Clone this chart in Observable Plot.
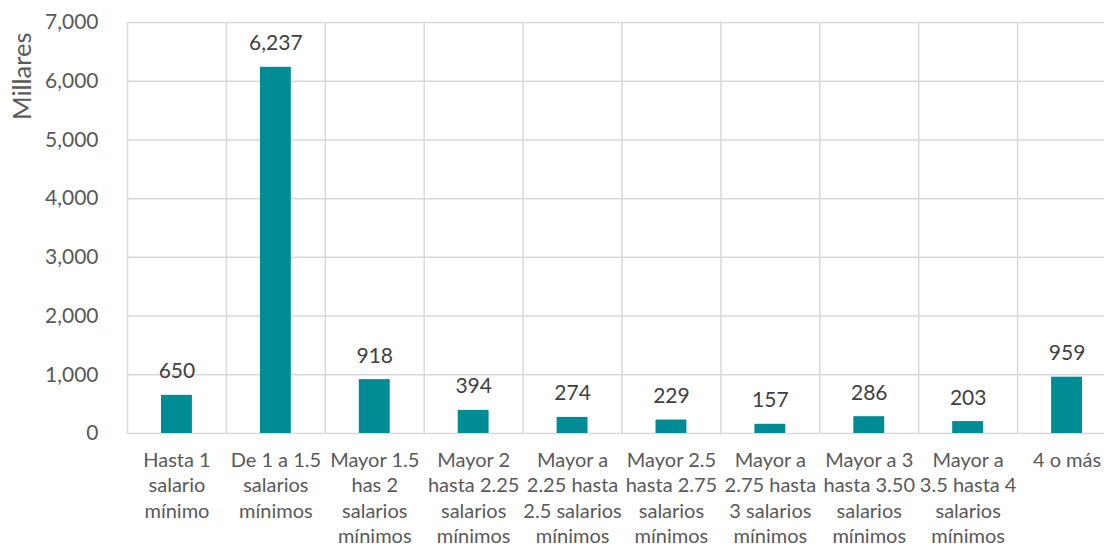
<!DOCTYPE html>
<html>
<head>
<meta charset="utf-8">
<script src="https://cdn.jsdelivr.net/npm/d3@7"></script>
<script src="https://cdn.jsdelivr.net/npm/@observablehq/plot@0.6"></script>
<style>
  html, body { margin: 0; padding: 0; background: #fff; overflow: hidden; }
  #chart svg { max-width: none !important; }
</style>
</head>
<body>
<div id="chart"></div>
<script>
const categories = [
  "Hasta 1\nsalario\nmínimo",
  "De 1 a 1.5\nsalarios\nmínimos",
  "Mayor 1.5\nhas 2\nsalarios\nmínimos",
  "Mayor 2\nhasta 2.25\nsalarios\nmínimos",
  "Mayor a\n2.25 hasta\n2.5 salarios\nmínimos",
  "Mayor 2.5\nhasta 2.75\nsalarios\nmínimos",
  "Mayor a\n2.75 hasta\n3 salarios\nmínimos",
  "Mayor a 3\nhasta 3.50\nsalarios\nmínimos",
  "Mayor a\n3.5 hasta 4\nsalarios\nmínimos",
  "4 o más"
];
const values = [650, 6237, 918, 394, 274, 229, 157, 286, 203, 959];
const yTicks = [0, 1000, 2000, 3000, 4000, 5000, 6000, 7000];
const yLabel = "Millares";

const data = categories.map((c, i) => ({i, c, v: values[i]}));
const fmt = d3.format(",");
const bounds = d3.range(categories.length + 1);
const centers = d3.range(categories.length).map(i => i + 0.5);

const chart = Plot.plot({
  width: 1117,
  height: 548,
  marginLeft: 127,
  marginRight: 1,
  marginTop: 22,
  marginBottom: 115,
  style: {fontFamily: "Lato", fontSize: "20px", color: "#595959", background: "#fff", maxWidth: "none"},
  x: {type: "linear", domain: [0, categories.length]},
  y: {domain: [0, 7000]},
  marks: [
    Plot.ruleY(yTicks, {stroke: "#d9d9d9", strokeWidth: 1.5, strokeOpacity: 1}),
    Plot.ruleX(bounds, {stroke: "#d9d9d9", strokeWidth: 1.5, strokeOpacity: 1}),
    Plot.rectY(data, {x1: d => d.i, x2: d => d.i + 1, y: "v", fill: "#008C95", insetLeft: 34, insetRight: 34}),
    Plot.text(data, {x: d => d.i + 0.5, y: "v", text: d => fmt(d.v), lineAnchor: "bottom", dy: -17, fill: "#404040", fontSize: 21}),
    Plot.axisY(yTicks, {tickSize: 0, tickPadding: 29, tickFormat: fmt, fontSize: 21, label: null, fill: "#595959"}),
    Plot.axisX(centers, {tickSize: 0, tickPadding: 15, tickFormat: d => categories[Math.floor(d)], lineHeight: 1.28, fontSize: 20, label: null, fill: "#595959"}),
    Plot.text([yLabel], {frameAnchor: "top-left", text: d => d, rotate: -90, textAnchor: "end", lineAnchor: "middle", dx: -105, dy: 10, fontSize: 25.5, fill: "#595959"})
  ]
});
document.getElementById("chart").appendChild(chart);
</script>
</body>
</html>
